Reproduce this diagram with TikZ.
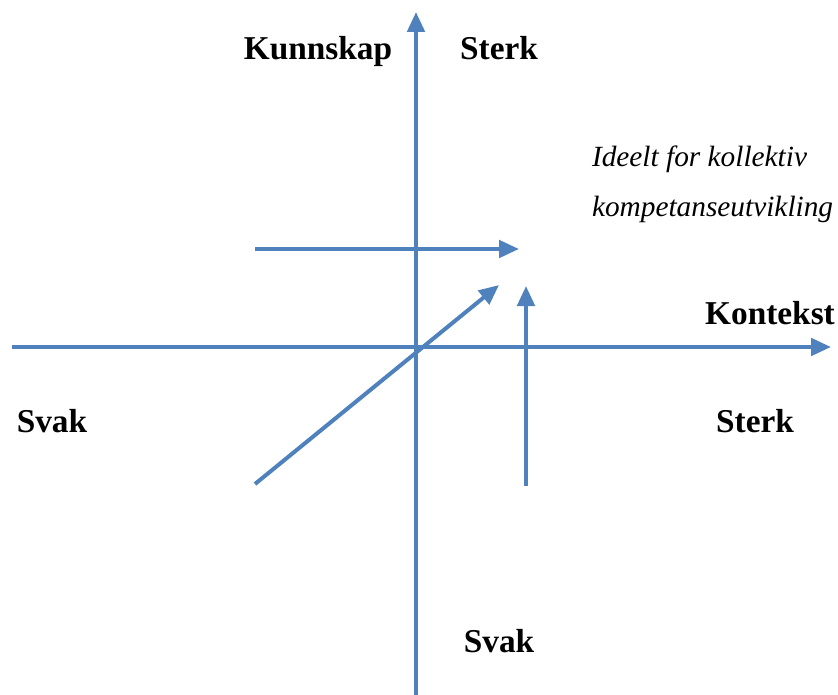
\documentclass[tikz,border=0pt]{standalone}
\usepackage{fontspec}
\setmainfont{Liberation Serif}
\usetikzlibrary{arrows.meta}

\definecolor{axisblue}{RGB}{79,129,189}

\begin{document}
\begin{tikzpicture}[x=0.75pt,y=-0.75pt,->,>={Triangle[length=15pt,width=13pt]},line width=3pt,draw=axisblue]
  \tikzstyle{every node}=[inner sep=0pt,text=black]
  \tikzstyle{big}=[font=\fontsize{25}{30}\selectfont\bfseries,anchor=base]
  \tikzstyle{note}=[font=\fontsize{22}{37.5}\selectfont\itshape,anchor=base west,align=left]

  \useasboundingbox (0,0) rectangle (838,695);

  % axes
  \coordinate (ybot) at (416,695);
  \coordinate (ytop) at (416,12);
  \coordinate (xleft) at (12,347);
  \coordinate (xright) at (831,347);

  % short arrows
  \coordinate (hstart) at (255,249);
  \coordinate (hend)   at (519,249);
  \coordinate (dstart) at (255,484);
  \coordinate (dend)   at (499,285);
  \coordinate (vstart) at (526,486);
  \coordinate (vend)   at (526,286);

  \node[big] (kunnskap) at (318,60) {Kunnskap};
  \node[big] (sterktop) at (499,60) {Sterk};
  \node[big] (kontekst) at (770,324) {Kontekst};
  \node[big] (svakleft) at (52,432) {Svak};
  \node[big] (sterkright) at (755,432) {Sterk};
  \node[big] (svakbot) at (499,652) {Svak};
  \node[note] (ideelt) at (590,217) {Ideelt for kollektiv\\kompetanseutvikling};

  \path
  (ybot) edge (ytop)
  (xleft) edge (xright)
  (hstart) edge (hend)
  (dstart) edge (dend)
  (vstart) edge (vend);
\end{tikzpicture}
\end{document}
